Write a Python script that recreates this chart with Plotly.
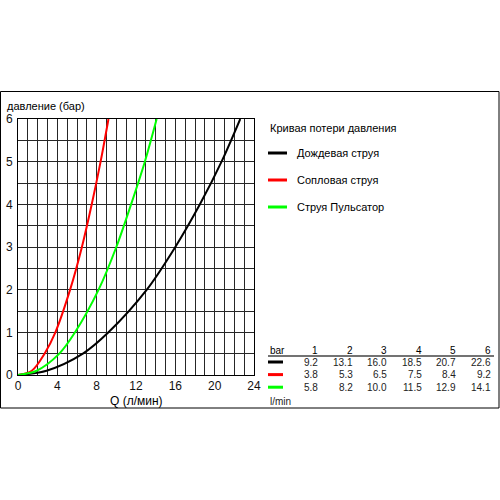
import plotly.graph_objects as go

# ---- data ----
pressures = [1, 2, 3, 4, 5, 6]                       # bar (table header)
series_names = ["Дождевая струя", "Сопловая струя", "Струя Пульсатор"]
series_colors = ["#000000", "#ff0000", "#00ff00"]
flow_rain = [9.2, 13.1, 16.0, 18.5, 20.7, 22.6]      # l/min
flow_nozzle = [3.8, 5.3, 6.5, 7.5, 8.4, 9.2]
flow_pulsator = [5.8, 8.2, 10.0, 11.5, 12.9, 14.1]
# low-pressure part of the curves
low_pressures = [0, 0.1, 0.5]
low_rain = [0, 2.9, 6.6]
low_nozzle = [0, 1.4, 2.7]
low_pulsator = [0, 1.9, 4.2]

x_ticks = [0, 4, 8, 12, 16, 20, 24]
y_ticks = [0, 1, 2, 3, 4, 5, 6]

flows = [flow_rain, flow_nozzle, flow_pulsator]
lows = [low_rain, low_nozzle, low_pulsator]

FONT = "Liberation Sans, Arial, sans-serif"

# plot area in pixels
L, R, T, B = 18, 254, 119, 375
W, H = 500, 500


def px(x):
    return (x - L) / (R - L)


def py(y):
    return (B - y) / (B - T)


fig = go.Figure()
for name, col, fl, lo in zip(series_names, series_colors, flows, lows):
    fig.add_trace(go.Scatter(
        x=lo + fl, y=low_pressures + pressures, mode="lines", name=name,
        line=dict(color=col, width=2, shape="spline", smoothing=0.9),
        showlegend=False, hoverinfo="skip"))

grid_col = "#262626"
fig.update_layout(
    width=W, height=H,
    margin=dict(l=L, r=W - R, t=T, b=H - B, pad=0),
    paper_bgcolor="white", plot_bgcolor="white",
    font=dict(family=FONT, color="#000000", size=12),
    showlegend=False,
    xaxis=dict(range=[0, 24], tickvals=x_ticks, showgrid=True, gridcolor=grid_col,
               gridwidth=1, zeroline=False, showline=True, mirror=True,
               linecolor="#000000", linewidth=1, ticks="", automargin=False,
               tickfont=dict(size=12, family=FONT, color="#111"),
               minor=dict(dtick=1, showgrid=True, gridcolor=grid_col, gridwidth=1),
               fixedrange=True),
    yaxis=dict(range=[0, 6], tickvals=y_ticks, showgrid=True, gridcolor=grid_col,
               gridwidth=1, zeroline=False, showline=True, mirror=True,
               linecolor="#000000", linewidth=1, ticks="", ticklabelstandoff=2,
               automargin=False,
               tickfont=dict(size=12, family=FONT, color="#111"),
               minor=dict(dtick=0.5, showgrid=True, gridcolor=grid_col, gridwidth=1),
               fixedrange=True),
)

shapes = []
ann = []


def text(x, y, s, size=11, xanchor="left", color="#000"):
    ann.append(dict(x=px(x), y=py(y), xref="paper", yref="paper", text=s,
                    showarrow=False, xanchor=xanchor, yanchor="middle",
                    font=dict(size=size, family=FONT, color=color)))


def hline(x0, x1, y, color, width):
    shapes.append(dict(type="line", xref="paper", yref="paper",
                       x0=px(x0), x1=px(x1), y0=py(y), y1=py(y),
                       line=dict(color=color, width=width)))


# outer frame
shapes.append(dict(type="rect", xref="paper", yref="paper",
                   x0=px(0.5), x1=px(499), y0=py(91.5), y1=py(408),
                   line=dict(color="#000", width=1), fillcolor="rgba(0,0,0,0)"))

# axis titles
text(5, 106, "давление (бар)", size=11)
text(136, 401, "Q (л/мин)", size=12, xanchor="center")

# legend
text(268, 128, "Кривая потери давления", size=11)
for i, (name, col) in enumerate(zip(series_names, series_colors)):
    yy = 153 + i * 27
    hline(268, 287, yy, col, 3)
    text(295, yy, name, size=11)

# table
col_right = [320, 355, 389, 424, 458, 493]
text(268, 350, "bar", size=10)
for p, xr in zip(pressures, col_right):
    text(xr, 350, str(p), size=10, xanchor="right")
hline(268, 494, 356, "#444", 1.5)
for i, (fl, col) in enumerate(zip(flows, series_colors)):
    yy = 362 + i * 12.6
    hline(268, 283, yy, col, 3)
    for v, xr in zip(fl, col_right):
        text(xr, yy, f"{v:.1f}", size=10, xanchor="right", color="#222")
text(268, 401, "l/min", size=10, color="#222")

fig.update_layout(shapes=shapes, annotations=ann)
fig.write_html("out.html", config={"displayModeBar": False},
               post_script="document.body.style.margin='0px';")
